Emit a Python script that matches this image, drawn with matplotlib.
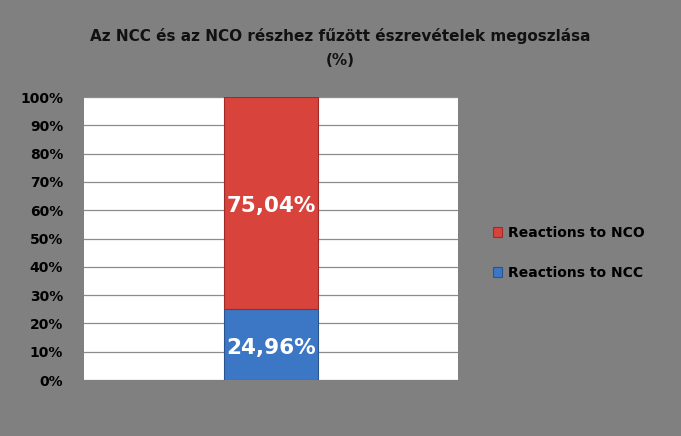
import matplotlib.pyplot as plt
import numpy as np

categories = ['']
ncc = [24.96]
nco = [75.04]
series_labels = ['Reactions to NCC', 'Reactions to NCO']
title = 'Az NCC és az NCO részhez fűzött észrevételek megoszlása\n(%)'
yticks = list(range(0, 101, 10))

bg = '#808080'
red = '#D8433C'
blue = '#3B77C4'

fig = plt.figure(figsize=(6.81, 4.36), dpi=100, facecolor=bg)
ax = fig.add_axes([0.1233, 0.1284, 0.549, 0.649])
ax.set_facecolor('white')

x = np.arange(len(categories))
b1 = ax.bar(x, ncc, width=1.0, color=blue, edgecolor='#2A5490', linewidth=0.8,
            label=series_labels[0], zorder=3)
b2 = ax.bar(x, nco, bottom=ncc, width=1.0, color=red, edgecolor='#9E2B27', linewidth=0.8,
            label=series_labels[1], zorder=3)

for bars, vals, bottoms in [(b1, ncc, [0]), (b2, nco, ncc)]:
    for rect, v, b in zip(bars, vals, bottoms):
        ax.text(rect.get_x() + rect.get_width() / 2, b + v / 2 - 1,
                f'{v:.2f}%'.replace('.', ','), ha='center', va='center',
                color='white', fontsize=15.5, fontweight='bold', zorder=4)

ax.set_xlim(-2, 2)
ax.set_ylim(0, 100)
ax.set_yticks(yticks)
ax.set_yticklabels([f'{t}%' for t in yticks], fontsize=10, fontweight='bold', color='black')
ax.set_xticks([])
ax.tick_params(axis='y', length=0, pad=15)
ax.yaxis.grid(True, color='#8C8C8C', linewidth=0.9, zorder=0)
for s in ax.spines.values():
    s.set_visible(False)

fig.suptitle(title, x=0.5, y=0.935, fontsize=11, fontweight='bold', color='#111111',
             linespacing=1.75)

handles = [b2, b1]
leg = fig.legend(handles, [series_labels[1], series_labels[0]], loc='center left',
                 bbox_to_anchor=(0.705, 0.42), frameon=False, handlelength=0.7,
                 handleheight=0.7, labelspacing=1.9, handletextpad=0.4,
                 prop={'size': 10, 'weight': 'bold'})

fig.savefig('out.png', dpi=100, facecolor=bg)
